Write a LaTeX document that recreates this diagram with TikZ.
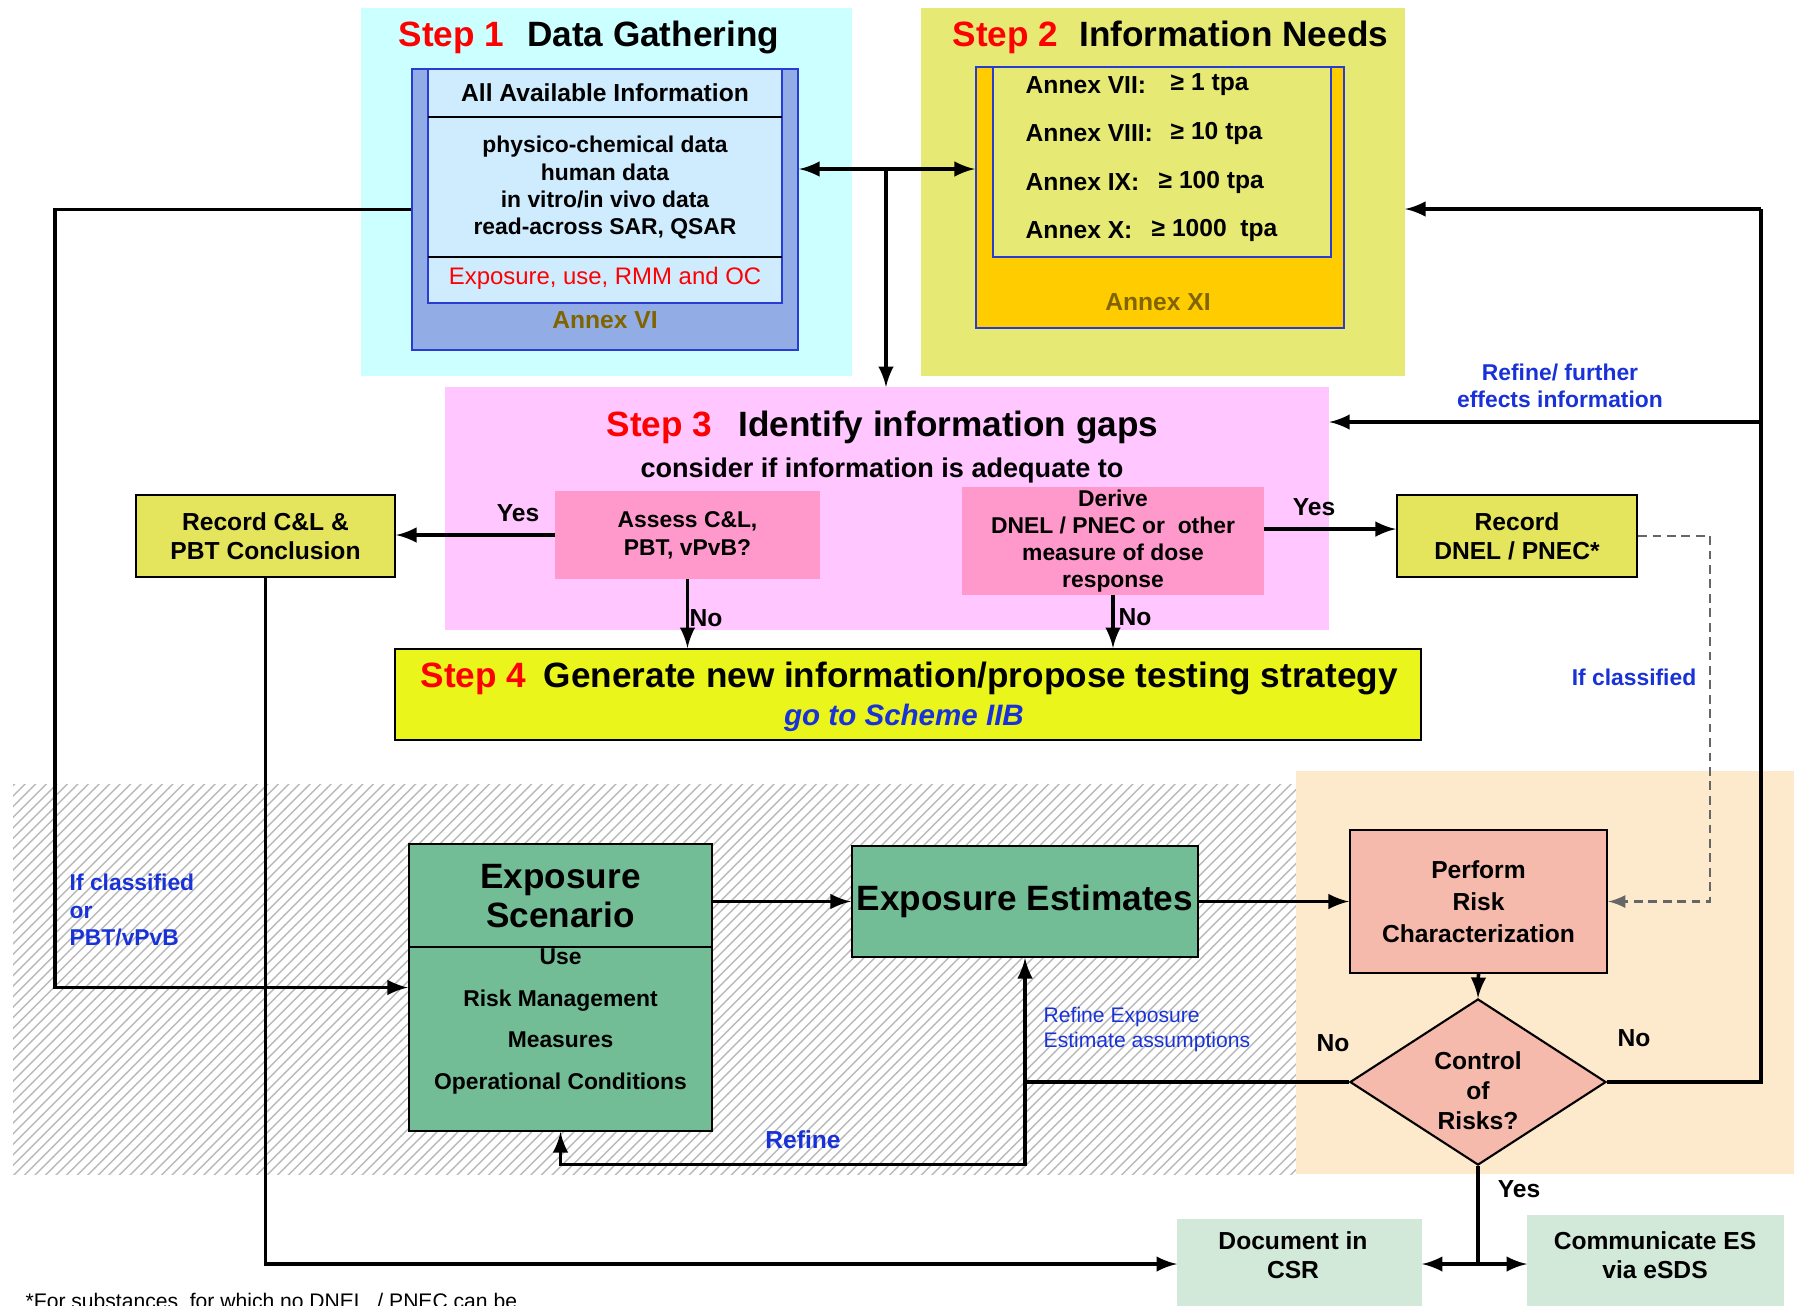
\documentclass[tikz,border=0pt]{standalone}
\usepackage{fontspec}
\setmainfont{Liberation Sans}
\usepackage{xcolor}
\usepackage{tikz}
\usetikzlibrary{arrows,shapes.geometric,patterns}

\definecolor{stepcyan}{RGB}{204,255,255}
\definecolor{annexblue}{RGB}{146,172,230}
\definecolor{infoblue}{RGB}{206,236,254}
\definecolor{edgeblue}{RGB}{40,60,210}
\definecolor{steplime}{RGB}{230,233,115}
\definecolor{annexgold}{RGB}{255,204,0}
\definecolor{steppink}{RGB}{255,198,255}
\definecolor{askpink}{RGB}{255,153,204}
\definecolor{recyellow}{RGB}{228,229,92}
\definecolor{stepyellow}{RGB}{234,245,28}
\definecolor{esgreen}{RGB}{114,188,150}
\definecolor{riskpink}{RGB}{246,186,172}
\definecolor{peach}{RGB}{253,233,204}
\definecolor{notebl}{RGB}{25,50,215}
\definecolor{annexbrown}{RGB}{128,100,0}
\definecolor{docgreen}{RGB}{210,232,216}

\begin{document}
\begin{tikzpicture}[x=0.01cm,y=-0.01cm,
	bg/.style={inner sep=0,outer sep=0},
	box/.style={draw,line width=0.6pt,inner sep=0,align=center},
	ln/.style={line width=1pt},
	arr/.style={-latex,line width=1pt},
	dasharr/.style={-latex,line width=0.7pt,gray!80!black,dash pattern=on 2.5pt off 1.6pt},
	steptitle/.style={anchor=west,inner sep=0,font=\bfseries\fontsize{10}{12}\selectfont},
	big/.style={inner sep=0,align=center,font=\bfseries\fontsize{10}{11.3}\selectfont},
	lbl/.style={inner sep=0,align=center,font=\bfseries\fontsize{7}{8.2}\selectfont},
	small/.style={inner sep=0,align=center,font=\bfseries\fontsize{6.5}{7.7}\selectfont},
	note/.style={inner sep=0,text=notebl,font=\bfseries\fontsize{6.5}{7.7}\selectfont}]
	\useasboundingbox (0,0) rectangle (1794,1305);

	\node[bg,fill=stepcyan,minimum width=4.91cm,minimum height=3.68cm] (step1) at (606.5,192) {};
	\node[box,draw=edgeblue,fill=annexblue,minimum width=3.86cm,minimum height=2.81cm] (annex6) at (605,209.5) {};
	\node[box,draw=edgeblue,fill=infoblue,minimum width=3.54cm,minimum height=2.34cm] (info) at (605,186) {};
	\draw[line width=0.5pt] (428,117) -- (782,117);
	\draw[line width=0.5pt] (428,257) -- (782,257);
	\node[steptitle] (t1) at (398,37) {\textcolor{red}{Step 1}\hspace{6.5pt}Data Gathering};
	\node[lbl] (allinfo) at (605,93) {All Available Information};
	\node[small] (datalist) at (605,187.5) {physico-chemical data\\human data\\in vitro/in vivo data\\read-across SAR, QSAR};
	\node[inner sep=0,text=red,font=\fontsize{6.8}{8}\selectfont] (expo) at (605,278) {Exposure, use, RMM and OC};
	\node[lbl,text=annexbrown] (a6) at (605,320) {Annex VI};

	\node[bg,fill=steplime,minimum width=4.84cm,minimum height=3.68cm] (step2) at (1163,192) {};
	\node[box,draw=edgeblue,fill=annexgold,minimum width=3.68cm,minimum height=2.61cm] (annex11) at (1160,197.5) {};
	\node[box,draw=edgeblue,fill=steplime,minimum width=3.38cm,minimum height=1.90cm] (tiers) at (1162,162) {};
	\node[steptitle] (t2) at (952,37) {\textcolor{red}{Step 2}\hspace{6pt}Information Needs};
	\foreach \r/\t/\y/\x in {VII/1 tpa/85/1170,VIII/10 tpa/133/1170,IX/100 tpa/182/1158,X/1000\ \ tpa/230/1151}{
		\node[lbl,anchor=west] (ann\r) at (1025,\y) {Annex \r:};
		\node[lbl,anchor=west] (ton\r) at (\x,\y) {≥ \t};
	}
	\node[lbl,text=annexbrown] (a11) at (1158,302) {Annex XI};

	\node[bg,fill=steppink,minimum width=8.84cm,minimum height=2.43cm] (step3) at (887,508.5) {};
	\node[steptitle] (t3) at (606,427) {\textcolor{red}{Step 3}\hspace{7.4pt}Identify information gaps};
	\node[inner sep=0,font=\bfseries\fontsize{7.7}{9}\selectfont] (consider) at (882,470) {consider if information is adequate to};
	\node[bg,fill=askpink,minimum width=2.65cm,minimum height=0.88cm,align=center,font=\bfseries\fontsize{6.5}{8}\selectfont] (assess) at (687.5,535) {Assess C\&L,\\PBT, vPvB?};
	\node[bg,fill=askpink,minimum width=3.02cm,minimum height=1.08cm,align=center,font=\bfseries\fontsize{6.5}{7.7}\selectfont] (derive) at (1113,541) {Derive\\DNEL / PNEC or\ \ other\\measure of dose\\response};

	\node[box,fill=recyellow,minimum width=2.59cm,minimum height=0.82cm,font=\bfseries\fontsize{7}{8.2}\selectfont] (reccl) at (265.5,536) {Record C\&L \&\\PBT Conclusion};
	\node[box,fill=recyellow,minimum width=2.40cm,minimum height=0.82cm,font=\bfseries\fontsize{7}{8.2}\selectfont] (recdnel) at (1517,536) {Record\\DNEL / PNEC*};

	\node[box,fill=stepyellow,minimum width=10.26cm,minimum height=0.91cm] (step4) at (908,694.5) {};
	\node[steptitle] (t4) at (420,678) {\textcolor{red}{Step 4}\hspace{5pt}Generate new information/propose testing strategy};
	\node[inner sep=0,text=notebl,font=\bfseries\itshape\fontsize{8.4}{10}\selectfont] (scheme) at (904,718) {go to Scheme IIB};

	\fill[pattern=north east lines,pattern color=gray!55] (13,784) rectangle (1296,1174);
	\fill[peach] (1296,771) rectangle (1794,1174);

	\node[box,fill=esgreen,minimum width=3.03cm,minimum height=2.87cm] (es) at (560.5,987.5) {};
	\draw[line width=0.6pt] (409,947) -- (712,947);
	\node[big] (estitle) at (560.5,896) {Exposure\\Scenario};
	\node[inner sep=0,align=center,font=\bfseries\fontsize{6.5}{11.8}\selectfont] (esbody) at (560.5,1021.5) {Use\\Risk Management\\Measures\\Operational Conditions};
	\node[box,fill=esgreen,minimum width=3.46cm,minimum height=1.11cm,font=\bfseries\fontsize{10}{12}\selectfont] (ee) at (1025,901.5) {Exposure Estimates};
	\node[box,fill=riskpink,minimum width=2.57cm,minimum height=1.43cm,font=\bfseries\fontsize{7}{9.1}\selectfont] (prc) at (1478.5,901.5) {Perform\\Risk\\Characterization};
	\node[diamond,draw,line width=0.6pt,fill=riskpink,minimum width=2.56cm,minimum height=1.66cm,inner sep=0] (dia) at (1478,1082) {};
	\node[lbl,font=\bfseries\fontsize{7}{8.5}\selectfont] (risktxt) at (1478,1091) {Control\\of\\Risks?};

	\node[bg,fill=docgreen,minimum width=2.45cm,minimum height=0.90cm] (doc) at (1299.5,1264) {};
	\node[lbl] (doctxt) at (1293,1255.5) {Document in\\CSR};
	\node[bg,fill=docgreen,minimum width=2.57cm,minimum height=0.98cm] (comm) at (1655.5,1264) {};
	\node[lbl] (commtxt) at (1655,1255.5) {Communicate ES\\via eSDS};

	\node[lbl] (yes1) at (518,513) {Yes};
	\node[lbl] (yes2) at (1314,507) {Yes};
	\node[lbl] (no1) at (706,618) {No};
	\node[lbl] (no2) at (1135,617) {No};
	\node[lbl] (no3) at (1333,1043) {No};
	\node[lbl] (no4) at (1634,1038) {No};
	\node[lbl] (yes3) at (1519,1189) {Yes};

	\node[note,align=center] (refurther) at (1560,386) {Refine/ further\\effects information};
	\node[note,align=left,anchor=west] (ifcls1) at (69,910) {If classified\\or\\PBT/vPvB};
	\node[note] (ifcls2) at (1634,677) {If classified};
	\node[inner sep=0,align=left,anchor=west,text=notebl,font=\fontsize{6}{7}\selectfont] (refexp) at (1043,1029.5) {Refine Exposure\\Estimate assumptions};
	\node[note,font=\bfseries\fontsize{7}{8}\selectfont] (refine) at (803,1140) {Refine};
	\node[anchor=base west,inner sep=0,font=\fontsize{6}{7}\selectfont] (foot) at (25,1308) {*For substances\ \ for which no DNEL\ \ / PNEC can be};

	\coordinate (tj) at (886,169);
	\draw[arr] (tj) -- (tj -| annex6.east);
	\draw[arr] (tj) -- (tj -| annex11.west);
	\draw[arr] (tj) -- (tj |- step3.north);
	\coordinate (lft) at (55,987.5);
	\draw[arr] (annex6.west) -| (lft) -- (es.west);
	\draw[arr] (assess.west) -- (assess.west -| reccl.east);
	\coordinate (dy) at ([yshift=3.4pt]derive.east);
	\draw[arr] (dy) -- (dy -| recdnel.west);
	\draw[arr] (assess.south) -- (assess.south |- step4.north);
	\draw[arr] (derive.south) -- (derive.south |- step4.north);
	\draw[arr] (reccl.south) |- (doc.west);
	\draw[arr] (ee.west -| es.east) -- (ee.west);
	\draw[arr] (ee.east) -- (prc.west);
	\draw[arr] (prc.south) -- (dia.north);
	\draw[arr] (dia.west) -| (ee.south);
	\draw[arr] (dia.west -| ee.south) -- ++(0,82.5) -| (es.south);
	\coordinate (rt) at (1761,209);
	\coordinate (rg) at (1761,422);
	\draw[ln] (dia.east) -| (rt);
	\draw[arr] (rt) -- (rt -| step2.east);
	\draw[arr] (rg) -- (rg -| step3.east);
	\draw[ln] (dia.south) -- (dia.south |- doc.west) coordinate (yj);
	\draw[arr] (yj) -- (doc.east);
	\draw[arr] (yj) -- (comm.west);
	\coordinate (dr) at (1710,901.5);
	\draw[dasharr] (recdnel.east) -| (dr) -- (prc.east);
\end{tikzpicture}
\end{document}
